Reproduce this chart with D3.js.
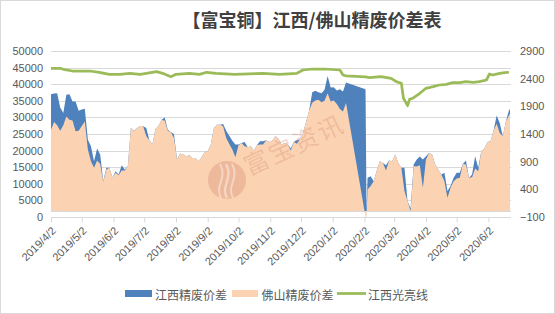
<!DOCTYPE html>
<html>
<head>
<meta charset="UTF-8">
<title>江西/佛山精废价差表</title>
<script src="https://cdn.jsdelivr.net/npm/d3@7"></script>
<style>
body { margin: 0; background: #fff; }
svg { display: block; }
</style>
</head>
<body>
<svg id="chart" width="555" height="314"></svg>
<script>
// spread series (right axis)
const dates = ["2019-04-02","2019-04-05","2019-04-08","2019-04-11","2019-04-14","2019-04-17","2019-04-20","2019-04-23","2019-04-26","2019-04-29",
"2019-05-02","2019-05-05","2019-05-08","2019-05-11","2019-05-14","2019-05-17","2019-05-20","2019-05-23","2019-05-26","2019-05-29",
"2019-06-01","2019-06-04","2019-06-07","2019-06-10","2019-06-13","2019-06-16","2019-06-19","2019-06-22","2019-06-25","2019-06-28",
"2019-07-01","2019-07-04","2019-07-07","2019-07-10","2019-07-13","2019-07-16","2019-07-19","2019-07-22","2019-07-25","2019-07-28","2019-07-31",
"2019-08-03","2019-08-06","2019-08-09","2019-08-12","2019-08-15","2019-08-18","2019-08-21","2019-08-24","2019-08-27","2019-08-30",
"2019-09-02","2019-09-05","2019-09-08","2019-09-11","2019-09-14","2019-09-17","2019-09-20","2019-09-23","2019-09-26","2019-09-29",
"2019-10-02","2019-10-05","2019-10-08","2019-10-11","2019-10-14","2019-10-17","2019-10-20","2019-10-23","2019-10-26","2019-10-29",
"2019-11-01","2019-11-04","2019-11-07","2019-11-10","2019-11-13","2019-11-16","2019-11-19","2019-11-22","2019-11-25","2019-11-28",
"2019-12-01","2019-12-04","2019-12-07","2019-12-10","2019-12-13","2019-12-16","2019-12-19","2019-12-22","2019-12-25","2019-12-28","2019-12-31",
"2020-01-03","2020-01-06","2020-01-09","2020-01-12","2020-01-15",
"2020-02-03","2020-02-04","2020-02-05","2020-02-08","2020-02-11","2020-02-14","2020-02-17","2020-02-20","2020-02-23","2020-02-26","2020-02-29",
"2020-03-03","2020-03-06","2020-03-09","2020-03-12","2020-03-15","2020-03-18","2020-03-21","2020-03-24","2020-03-27","2020-03-30",
"2020-04-02","2020-04-05","2020-04-08","2020-04-11","2020-04-14","2020-04-17","2020-04-20","2020-04-23","2020-04-26","2020-04-29",
"2020-05-02","2020-05-05","2020-05-08","2020-05-11","2020-05-14","2020-05-17","2020-05-20","2020-05-23","2020-05-26","2020-05-29",
"2020-06-01","2020-06-04","2020-06-07","2020-06-10","2020-06-13","2020-06-16","2020-06-19","2020-06-22","2020-06-23"];

const jiangxi = [2120,2132,2138,1880,1778,2108,2120,1988,1988,1820,
1844,1856,1298,1178,908,1136,1028,548,788,788,
608,728,668,836,758,818,1508,1460,1508,1544,
1538,1508,1286,1208,1490,1550,1658,1700,1478,1436,1400,
938,1046,1028,998,1016,968,968,908,980,1070,
1088,1208,1508,1568,1568,1580,1460,1370,1280,1208,
1208,1238,1256,1160,1178,1100,1196,1268,1268,1286,
1256,1280,1358,1316,1208,1238,1220,1136,1256,1286,
1304,1418,1616,1826,2156,2180,2156,2138,2198,2450,2240,
2246,2186,2210,2168,2330,
2210,0,608,638,548,740,908,878,836,920,908,
1028,878,788,788,188,60,848,938,992,938,
998,1058,1028,848,758,668,698,368,458,608,
698,698,860,920,608,668,998,788,1088,1136,
1256,1268,1460,1736,1598,1358,1628,1826,1856];

const foshan = [1478,1616,1556,1460,1556,1718,1658,1646,1448,1460,
1544,1628,1118,908,788,920,860,536,758,788,
608,698,656,740,740,818,1508,1460,1508,1544,
1538,1358,1286,1208,1490,1550,1658,1640,1460,1436,1328,
938,1046,1028,998,1016,968,968,908,980,1070,
1088,1208,1508,1568,1568,1538,1328,1220,1118,980,
1196,1238,1178,1160,1178,1100,1196,1208,1208,1286,
1256,1280,1358,1316,1208,1238,1220,1100,1256,1226,
1304,1418,1616,1826,1964,2006,2018,1976,2000,2138,1988,
2006,1940,1850,1808,1958,
-100,-100,398,458,548,740,908,878,740,920,908,
1028,878,788,368,188,10,818,812,836,428,
938,1058,1028,848,758,668,548,248,428,548,
596,608,860,848,608,620,776,728,1088,1136,
1256,1268,1460,1586,1418,1358,1628,1736,1766];

// bright copper price (left axis)
const lineDates = ["2019-04-02","2019-04-11","2019-04-14","2019-04-23","2019-05-10","2019-05-19","2019-05-29","2019-06-08","2019-06-18","2019-06-28",
"2019-07-04","2019-07-14","2019-07-20","2019-07-28","2019-08-02","2019-08-15","2019-08-25","2019-09-01","2019-09-10","2019-09-28",
"2019-10-26","2019-11-11","2019-11-28","2019-12-04","2019-12-13","2019-12-25","2020-01-09","2020-01-12","2020-01-15","2020-02-03",
"2020-02-07","2020-02-18","2020-02-28","2020-03-04","2020-03-09","2020-03-11","2020-03-13","2020-03-15","2020-03-17","2020-03-20",
"2020-03-27","2020-04-02","2020-04-09","2020-04-15","2020-04-22","2020-04-28","2020-05-05","2020-05-11","2020-05-18","2020-05-24",
"2020-05-31","2020-06-03","2020-06-06","2020-06-13","2020-06-18","2020-06-22"];
const lineVals = [44790,44790,44490,43976,43976,43585,42980,42980,43283,42980,
43283,43765,43283,42260,42980,43283,42980,43585,43283,42980,
43283,42980,43283,44277,44578,44578,44277,42771,42500,42200,
41958,42260,41777,40760,40270,35753,34730,33524,35452,35753,
37260,38765,39247,39759,39970,40452,40452,40753,40572,40753,
41265,43072,42771,43283,43464,43600];

const leftTicks = [0,5000,10000,15000,20000,25000,30000,35000,40000,45000,50000];
const rightTicks = [-100,400,900,1400,1900,2400,2900];
const xTickDates = ["2019-04-02","2019-05-02","2019-06-02","2019-07-02","2019-08-02","2019-09-02","2019-10-02","2019-11-02",
"2019-12-02","2020-01-02","2020-02-02","2020-03-02","2020-04-02","2020-05-02","2020-06-02"];
const seriesNames = ["江西精废价差","佛山精废价差","江西光亮线"];

const parse = d3.timeParse("%Y-%m-%d");
const fmt = d3.timeFormat("%Y/%-m/%-d");
var svg = d3.select("#chart");

var plotL = 51, plotR = 511, plotT = 51, plotB = 217;

var x = d3.scaleTime().domain([parse("2019-04-02"), parse("2020-06-24")]).range([plotL, plotR]);
var yL = d3.scaleLinear().domain([0, 50000]).range([plotB, plotT]);
var yR = d3.scaleLinear().domain([-100, 2900]).range([plotB, plotT]);

// outer frame
svg.append("rect").attr("x",0.5).attr("y",0.5).attr("width",554).attr("height",313)
  .attr("fill","#fff").attr("stroke","#d9d9d9");

// title
svg.append("text").attr("x",312).attr("y",27).attr("text-anchor","middle")
  .style("font-family","'Noto Sans CJK SC'").style("font-weight","bold").style("font-size","18px")
  .style("fill","#404040").text("【富宝铜】江西/佛山精废价差表");

// gridlines
svg.append("g").selectAll("line").data(leftTicks.slice(1)).enter().append("line")
  .attr("x1",plotL).attr("x2",plotR)
  .attr("y1",d => Math.round(yL(d))+0.5).attr("y2",d => Math.round(yL(d))+0.5)
  .attr("stroke","#d9d9d9").attr("stroke-width",1);

var rows = dates.map((d,i) => ({date: parse(d), jx: jiangxi[i], fs: foshan[i]}));

var areaJx = d3.area().x(d => x(d.date)).y0(yR(0)).y1(d => yR(d.jx));
var areaFs = d3.area().x(d => x(d.date)).y0(yR(0)).y1(d => yR(d.fs));

svg.append("path").datum(rows).attr("d",areaJx).attr("fill","#4f81bd");
svg.append("path").datum(rows).attr("d",areaFs).attr("fill","#fbd3b2");

// secondary zero line
svg.append("line").attr("x1",plotL).attr("x2",plotR)
  .attr("y1",Math.round(yR(0))+0.5).attr("y2",Math.round(yR(0))+0.5)
  .attr("stroke","#d9d9d9");

// watermark
var wm = svg.append("g").attr("opacity",0.85);
wm.append("circle").attr("cx",227).attr("cy",180).attr("r",19).attr("fill","rgba(205,115,100,0.32)");
[[-6,0.9],[0,1.1],[6,0.9]].forEach(function(p){
  wm.append("path")
    .attr("d","M"+(227+p[0])+",198 C"+(220+p[0])+",186 "+(234+p[0])+",178 "+(226+p[0])+",164")
    .attr("fill","none").attr("stroke","rgba(255,255,255,0.45)").attr("stroke-width",2.2*p[1]);
});
svg.append("text").attr("transform","translate(249,176) rotate(-25)")
  .style("font-family","'Noto Sans CJK SC'").style("font-size","25px").style("letter-spacing","2px")
  .style("fill","rgba(205,115,100,0.25)").text("富宝资讯");

// green line
var lineRows = lineDates.map((d,i) => ({date: parse(d), v: lineVals[i]}));
svg.append("path").datum(lineRows)
  .attr("d", d3.line().x(d => x(d.date)).y(d => yL(d.v)))
  .attr("fill","none").attr("stroke","#9bbb59").attr("stroke-width",2.75).attr("stroke-linejoin","round");

// axes
var axisFont = "'Liberation Sans', Arial, sans-serif";
var yLeftAxis = svg.append("g").attr("transform","translate("+(plotL-8)+",0)")
  .call(d3.axisLeft(yL).tickValues(leftTicks).tickSize(0).tickPadding(0).tickFormat(d3.format("d")));
var yRightAxis = svg.append("g").attr("transform","translate("+(plotR+9)+",0)")
  .call(d3.axisRight(yR).tickValues(rightTicks).tickSize(0).tickPadding(0).tickFormat(d3.format("d")));
[yLeftAxis, yRightAxis].forEach(function(g){
  g.select(".domain").remove();
  g.selectAll("text").style("font-family",axisFont).style("font-size","11px").style("fill","#595959");
});

var xAxis = svg.append("g").attr("transform","translate(0,"+(plotB+0.5)+")")
  .call(d3.axisBottom(x).tickValues(xTickDates.map(parse)).tickSize(5).tickFormat(fmt));
xAxis.select(".domain").attr("stroke","#d9d9d9").attr("d","M"+plotL+",0H"+plotR);
xAxis.selectAll(".tick line").attr("stroke","#d9d9d9");
xAxis.selectAll("text").attr("x",0).attr("y",0).attr("dy",null)
  .attr("transform","translate(5,14) rotate(-45)").attr("text-anchor","end")
  .style("font-family",axisFont).style("font-size","11px").style("fill","#595959");

// legend
var lg = svg.append("g").style("font-family","'Noto Sans CJK SC'").style("font-size","12px");
lg.append("rect").attr("x",125).attr("y",290).attr("width",27).attr("height",7).attr("fill","#4f81bd");
lg.append("text").attr("x",155).attr("y",294).attr("dominant-baseline","central").style("fill","#595959").text(seriesNames[0]);
lg.append("rect").attr("x",232).attr("y",290).attr("width",26).attr("height",7).attr("fill","#fbd3b2");
lg.append("text").attr("x",261.5).attr("y",294).attr("dominant-baseline","central").style("fill","#595959").text(seriesNames[1]);
lg.append("line").attr("x1",337).attr("x2",366).attr("y1",293.5).attr("y2",293.5).attr("stroke","#9bbb59").attr("stroke-width",2.75);
lg.append("text").attr("x",368).attr("y",294).attr("dominant-baseline","central").style("fill","#595959").text(seriesNames[2]);
</script>
</body>
</html>
